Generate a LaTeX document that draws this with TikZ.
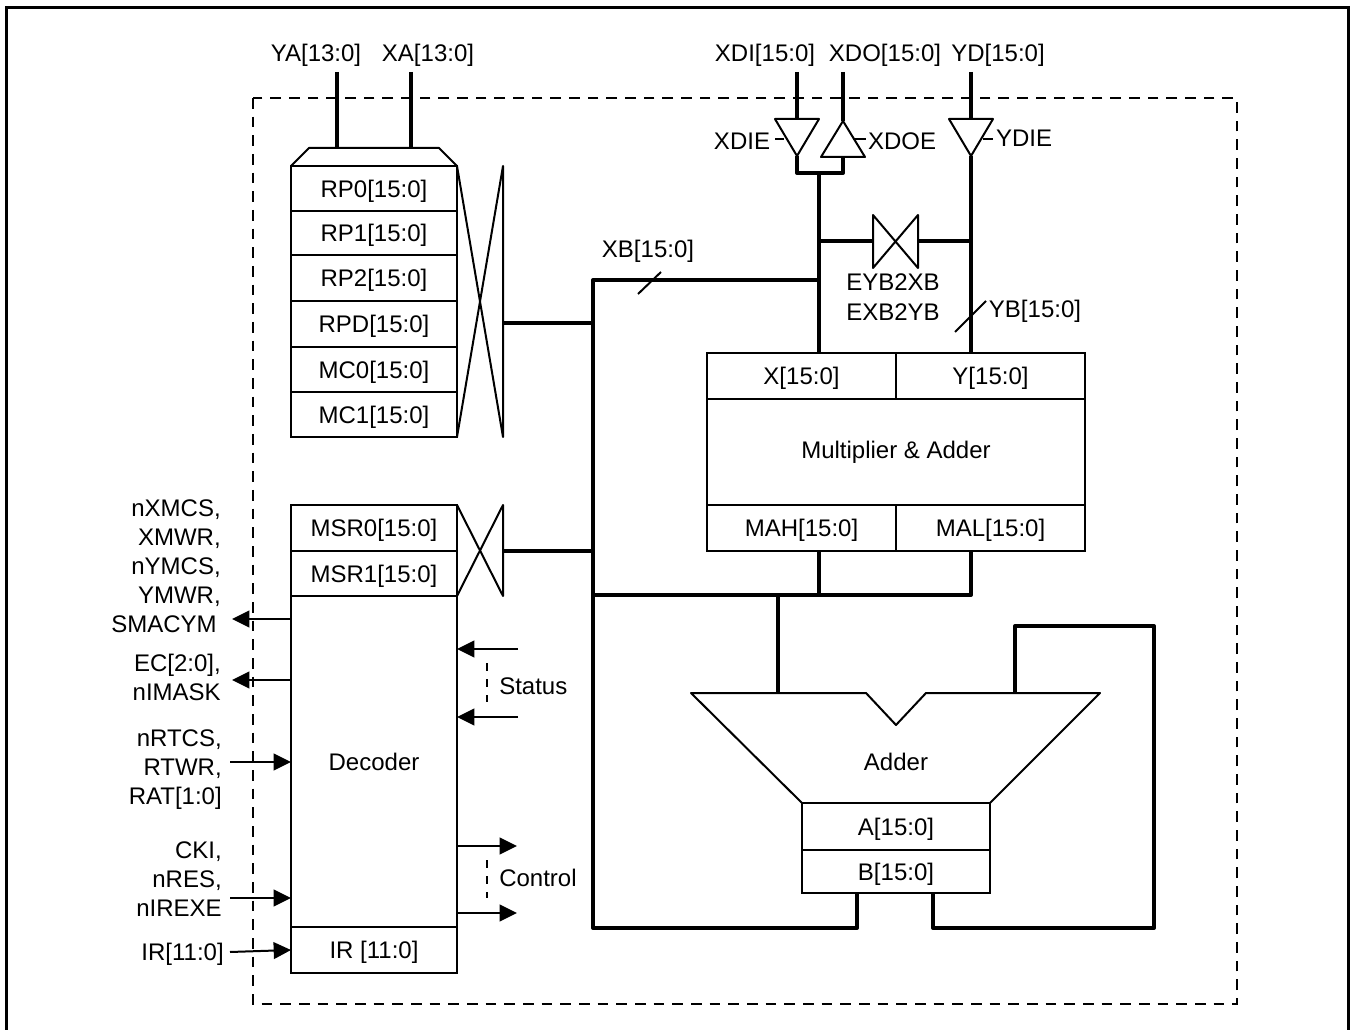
\documentclass[tikz,border=0pt]{standalone}
\usepackage{fontspec}
\setmainfont{Liberation Sans}
\usetikzlibrary{positioning, arrows.meta, calc}

\begin{document}
\begin{tikzpicture}[
    x=0.75pt, y=-0.75pt,
    every node/.style={font=\fontsize{18}{21.75}\selectfont},
    regbox/.style={draw=black, line width=1.5pt, rectangle, inner sep=0pt, outer sep=0pt, minimum width=124.5pt, text height=12.9pt, text depth=0pt},
    mulbox/.style={draw=black, line width=1.5pt, rectangle, inner sep=0pt, outer sep=0pt, minimum width=141.75pt, minimum height=34.5pt, text height=12.9pt, text depth=0pt},
    addbox/.style={draw=black, line width=1.5pt, rectangle, inner sep=0pt, outer sep=0pt, minimum width=141pt, text height=12.9pt, text depth=0pt},
    siglabel/.style={inner sep=0pt, align=right, anchor=east},
    buslabel/.style={inner sep=0pt, text height=12.9pt, text depth=0pt},
    outline/.style={line width=1.5pt, line join=round},
    bus/.style={line width=3pt, line join=round},
    wire/.style={line width=1.5pt},
    sigarrow/.style={line width=1.5pt, -{Triangle[length=13pt, width=12.5pt]}},
    boundary/.style={line width=1.2pt, dash pattern=on 8pt off 6pt}
]
\useasboundingbox (0,0) rectangle (1357,1030);

% Rahmen
\draw[line width=2.25pt] (6,1030) -- (6,8) -- (1348,8) -- (1348,1030);
\draw[boundary] (253,98) rectangle (1237,1004);

% Registerblock
\node[regbox, minimum height=33.75pt] (rp0) at (374,188.5) {RP0[15:0]};
\node[regbox, minimum height=33pt, below=0pt of rp0] (rp1) {RP1[15:0]};
\node[regbox, minimum height=34.5pt, below=0pt of rp1] (rp2) {RP2[15:0]};
\node[regbox, minimum height=34.5pt, below=0pt of rp2] (rpd) {RPD[15:0]};
\node[regbox, minimum height=33.75pt, below=0pt of rpd] (mc0) {MC0[15:0]};
\node[regbox, minimum height=33.75pt, below=0pt of mc0] (mc1) {MC1[15:0]};

% Decoder
\node[regbox, minimum height=34.5pt] (msr0) at (374,528) {MSR0[15:0]};
\node[regbox, minimum height=33.75pt, below=0pt of msr0] (msr1) {MSR1[15:0]};
\node[regbox, minimum height=248.25pt, below=0pt of msr1] (dec) {Decoder};
\node[regbox, minimum height=34.5pt, below=0pt of dec] (ir) {IR [11:0]};

% Multiplier
\node[mulbox, anchor=north east] (x) at (896,353) {X[15:0]};
\node[mulbox, right=0pt of x] (y) {Y[15:0]};
\node[draw=black, line width=1.5pt, inner sep=0pt, outer sep=0pt, minimum width=283.5pt, minimum height=79.5pt, anchor=north] (mul) at (x.south east) {Multiplier \& Adder};
\node[mulbox, anchor=north east] (mah) at (mul.south) {MAH[15:0]};
\node[mulbox, right=0pt of mah] (mal) {MAL[15:0]};

% Adder
\node[addbox, minimum height=35.25pt] (a) at (896,826.5) {A[15:0]};
\node[addbox, minimum height=32.25pt, below=0pt of a] (b) {B[15:0]};
\node[buslabel] (adder) at (896,762) {Adder};
\draw[outline] (a.north west) -- (691,693) -- (866,693) -- (896,725) -- (926,693) -- (1100,693) -- (a.north east);

% Beschriftung oben
\node[buslabel] (ya) at (316,53) {YA[13:0]};
\node[buslabel] (xa) at (428,53) {XA[13:0]};
\node[buslabel] (xdi) at (765,53) {XDI[15:0]};
\node[buslabel] (xdo) at (885,53) {XDO[15:0]};
\node[buslabel] (yd) at (998,53) {YD[15:0]};
\node[buslabel] (xdie) at (742,141) {XDIE};
\node[buslabel] (xdoe) at (902,141) {XDOE};
\node[buslabel] (ydie) at (1024,138) {YDIE};
\node[buslabel] (xb) at (648,249) {XB[15:0]};
\node[buslabel] (yb) at (1035,309) {YB[15:0]};
\node[buslabel] (eyb) at (893,282) {EYB2XB};
\node[buslabel] (exb) at (893,312) {EXB2YB};

% Signale links
\node[siglabel] (memsig) at (221,566) {nXMCS,\\XMWR,\\nYMCS,\\YMWR,\\SMACYM\,};
\node[siglabel] (ecsig) at (221,677) {EC[2:0],\\nIMASK};
\node[siglabel] (rtsig) at (222,770) {nRTCS,\\RTWR,\\RAT[1:0]};
\node[siglabel] (cksig) at (222,879) {CKI,\\nRES,\\nIREXE};
\node[siglabel, text height=12.9pt, text depth=0pt] (irsig) at (224,952) {IR[11:0]};
\node[buslabel, anchor=west] (status) at (499,686) {Status};
\node[buslabel, anchor=west] (control) at (499,878) {Control};

% Koordinaten
\coordinate (xhat) at (337,148);
\coordinate (ahat) at (411,148);
\coordinate (gate) at (503,323);
\coordinate (mgate) at (503,551);
\coordinate (xbtop) at (593,280);
\coordinate (xbbot) at (593,928);
\coordinate (xdin) at (797,119);
\coordinate (xdiout) at (797,156);
\coordinate (xdoin) at (843,157);
\coordinate (xdoout) at (843,121);
\coordinate (ydin) at (971,119);
\coordinate (ydout) at (971,156);
\coordinate (xjoin) at (819,173);
\coordinate (exl) at (873,241);
\coordinate (exr) at (918,241);
\coordinate (mbus) at (593,595);

% Registerkopf und Kreuze
\draw[outline] (rp0.north west) -- (309,148) -- (439,148) -- (rp0.north east);
\draw[outline] (rp0.north east) -- (mc1.south -| gate) -- (rp0.north -| gate) -- (mc1.south east);
\draw[outline] (msr0.north east) -- (msr1.south -| mgate) -- (msr0.north -| mgate) -- (msr1.south east);

% Treiber
\draw[outline] (775,119) -- (819,119) -- (xdiout) -- cycle;
\draw[outline] (821,157) -- (865,157) -- (xdoout) -- cycle;
\draw[outline] (949,119) -- (993,119) -- (ydout) -- cycle;
\draw[outline] (exl |- 0,215) -- (exl |- 0,268) -- (exr |- 0,215) -- (exr |- 0,268) -- cycle;
\draw[wire] (775,139) -- (784,139);
\draw[wire] (853,139) -- (866,139);
\draw[wire] (983,139) -- (993,139);

% Busse
\draw[bus] (xhat |- 0,72) -- (xhat);
\draw[bus] (ahat |- 0,72) -- (ahat);
\draw[bus] (xdin |- 0,72) -- (xdin);
\draw[bus] (xdoout |- 0,72) -- (xdoout);
\draw[bus] (ydin |- 0,72) -- (ydin);
\draw[bus] (xdiout) -- (xdiout |- xjoin) -- (xdoin |- xjoin) -- (xdoin);
\draw[bus] (xjoin) -- (x.north -| xjoin);
\draw[bus] (ydout) -- (y.north -| ydout);
\draw[bus] (xjoin |- exl) -- (exl);
\draw[bus] (exr) -- (ydout |- exr);
\draw[bus] (gate) -- (gate -| xbtop);
\draw[bus] (mgate) -- (mgate -| xbtop);
\draw[bus] (xjoin |- xbtop) -- (xbtop) -- (xbbot) -- (857,928) -- (b.south -| 857,0);
\draw[bus] (mbus) -- (ydout |- mbus) -- (mal.south -| ydout);
\draw[bus] (xjoin |- mbus) -- (mah.south -| xjoin);
\draw[line width=2.5pt] (778,595) -- (778,693);
\draw[bus] (b.south -| 933,0) -- (933,928) -- (1154,928) -- (1154,626) -- (1015,626) -- (1015,693);

% Querstriche
\draw[wire] (638,294) -- (661,272);
\draw[wire] (955,332) -- (986,301);

% Pfeile
\draw[sigarrow] (dec.west |- 0,619) -- (232,619);
\draw[sigarrow] (dec.west |- 0,680) -- (232,680);
\draw[sigarrow] (230,762) -- (dec.west |- 0,762);
\draw[sigarrow] (230,898) -- (dec.west |- 0,898);
\draw[sigarrow] (230,952) -- (ir.west);
\draw[sigarrow] (518,649) -- (dec.east |- 0,649);
\draw[sigarrow] (518,717) -- (dec.east |- 0,717);
\draw[sigarrow] (dec.east |- 0,846) -- (517,846);
\draw[sigarrow] (dec.east |- 0,913) -- (517,913);
\draw[wire, dash pattern=on 6pt off 6pt] (487,663) -- (487,702);
\draw[wire, dash pattern=on 6pt off 6pt] (487,860) -- (487,898);

\end{tikzpicture}
\end{document}
